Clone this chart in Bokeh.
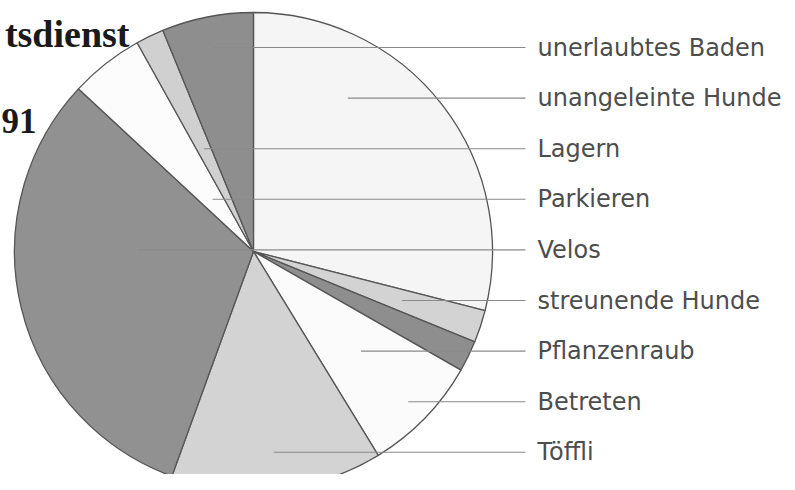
import math
from bokeh.plotting import figure
from bokeh.models import ColumnDataSource, Range1d
from bokeh.core.properties import value
from bokeh.embed import file_html
from bokeh.resources import INLINE

# ---- data (clockwise from 12 o'clock) ----
categories = ["unangeleinte Hunde", "streunende Hunde", "Pflanzenraub", "Betreten",
              "Töffli", "Velos", "Parkieren", "Lagern", "unerlaubtes Baden"]
values = [29.0, 2.2, 2.1, 8.0, 14.3, 31.4, 5.0, 1.9, 6.2]
colors = ["#f5f5f5", "#d3d3d3", "#8e8e8e", "#fbfbfb",
          "#d3d3d3", "#919191", "#fcfcfc", "#d0d0d0", "#8e8e8e"]
# order of the labels on the right, top to bottom
label_order = ["unerlaubtes Baden", "unangeleinte Hunde", "Lagern", "Parkieren", "Velos",
               "streunende Hunde", "Pflanzenraub", "Betreten", "Töffli"]
title_line1 = "tsdienst"
title_line2 = "91"

# ---- layout (reference pixel space, y measured downward, converted below) ----
PAGE_H = 490
W, H = 787, 474
cx, cy_ref, R = 253, 251, 239
def yd(y_ref):
    return PAGE_H - y_ref

p = figure(width=W, height=H, x_range=Range1d(0, W), y_range=Range1d(PAGE_H - H, PAGE_H),
           output_backend="svg", toolbar_location=None, min_border=0)
p.axis.visible = False
p.grid.visible = False
p.outline_line_color = None
p.background_fill_color = "white"
p.border_fill_color = "white"

total = sum(values)
starts, ends, mids = [], [], []
cum = 0.0
for v in values:
    a0 = math.pi / 2 - 2 * math.pi * cum / total
    cum += v
    a1 = math.pi / 2 - 2 * math.pi * cum / total
    starts.append(a0)
    ends.append(a1)
    mids.append((a0 + a1) / 2)

src = ColumnDataSource(dict(cat=categories, val=values, color=colors, start=starts, end=ends))
p.wedge(x=cx, y=yd(cy_ref), radius=R, start_angle="start", end_angle="end", direction="clock",
        fill_color="color", line_color="#555555", line_width=1.3, source=src)

# leader lines and labels
first_y, step = 47, 50.6
line_end_x, text_x = 525, 537
x0s, ys, labels = [], [], []
for i, name in enumerate(label_order):
    Y = first_y + i * step
    k = categories.index(name)
    m = mids[k]  # math angle (anticlockwise from +x)
    dx, dy = math.cos(m), math.sin(m)  # dy upward
    up = cy_ref - Y
    x0 = None
    if abs(dy) > 1e-6:
        r = up / dy
        if 0 < r < 0.92 * R:
            x0 = cx + r * dx
    if x0 is None:
        x0 = cx + 0.5 * R * dx
    x0s.append(x0)
    ys.append(yd(Y))
    labels.append(name)

lsrc = ColumnDataSource(dict(x0=x0s, x1=[line_end_x] * len(x0s), y=ys, tx=[text_x] * len(x0s), label=labels))
p.segment(x0="x0", y0="y", x1="x1", y1="y", line_color="#8a8a8a", line_width=1.1, source=lsrc)
p.text(x="tx", y="y", text="label", source=lsrc, text_font=value("DejaVu Sans"),
       text_font_size=value("24px"), text_baseline="alphabetic", text_align="left",
       text_color="#4d4d4d")

# title fragments (as visible in the reference)
tsrc = ColumnDataSource(dict(x=[129, 36], y=[yd(33), yd(120)], t=[title_line1, title_line2],
                             fs=["38px", "35px"]))
p.text(x="x", y="y", text="t", source=tsrc, text_font=value("Liberation Serif"),
       text_font_size="fs", text_font_style="bold", text_baseline="alphabetic",
       text_align="right", text_color="#1a1a1a")

open("out.html", "w").write(file_html(p, INLINE))
